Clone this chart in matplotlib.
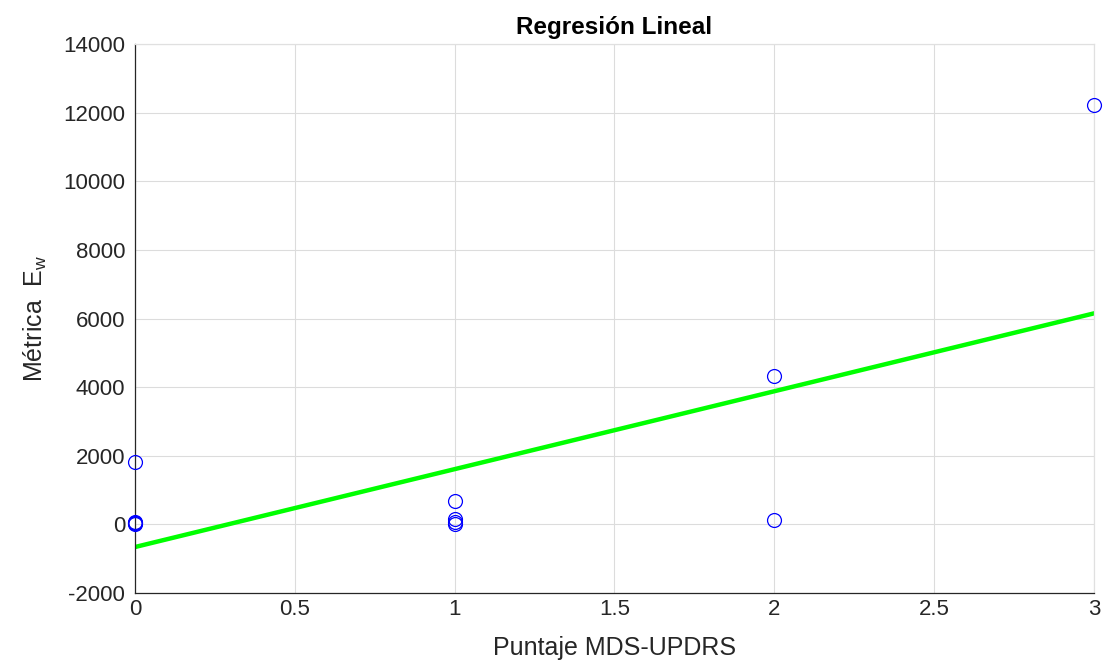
import matplotlib
matplotlib.use("Agg")
import matplotlib.pyplot as plt
import numpy as np

plt.rcParams['font.family'] = ['Liberation Sans', 'DejaVu Sans']
plt.rcParams['axes.unicode_minus'] = False

# Scores and E_w metric per subject
score = [0, 0, 0, 0, 0, 1, 1, 1, 1, 2, 2, 3]
metric = [1830, 60, 30, 10, 40, 680, 170, 60, 20, 4330, 140, 12230]

# Fitted regression line (endpoints)
fit_x = [0, 3]
fit_y = [-660, 6150]

xticks = [0, 0.5, 1, 1.5, 2, 2.5, 3]
yticks = list(range(-2000, 14001, 2000))

fig = plt.figure(figsize=(11.03, 6.66), dpi=100)
ax = fig.add_axes([0.1224, 0.1096, 0.8694, 0.8243])

ax.plot(fit_x, fit_y, color='#00ff00', linewidth=3.2, zorder=2)
ax.plot(score, metric, linestyle='none', marker='o', markersize=10,
        markerfacecolor='none', markeredgecolor='#0000ff', markeredgewidth=0.9,
        zorder=3, clip_on=False)

ax.set_xlim(0, 3)
ax.set_ylim(-2000, 14000)
ax.set_xticks(xticks)
ax.set_xticklabels(['0', '0.5', '1', '1.5', '2', '2.5', '3'])
ax.set_yticks(yticks)
ax.grid(True, color='#dcdcdc', linewidth=0.8)
ax.set_axisbelow(True)
ax.tick_params(length=0, labelsize=16, colors='#262626')
ax.tick_params(axis='x', pad=4)
ax.tick_params(axis='y', pad=7)
for side in ('left', 'bottom'):
    ax.spines[side].set_color('#262626')
    ax.spines[side].set_linewidth(0.9)
for side in ('top', 'right'):
    ax.spines[side].set_color('#e0e0e0')
    ax.spines[side].set_linewidth(0.9)

ax.set_title('Regresión Lineal', fontsize=17.5, fontweight='bold', pad=7)
ax.set_xlabel('Puntaje MDS-UPDRS', fontsize=18, color='#262626', labelpad=12)
ax.set_ylabel(r'Métrica  E$_\mathregular{w}$', fontsize=18, color='#262626', labelpad=10)

fig.savefig('out.png', dpi=100)
